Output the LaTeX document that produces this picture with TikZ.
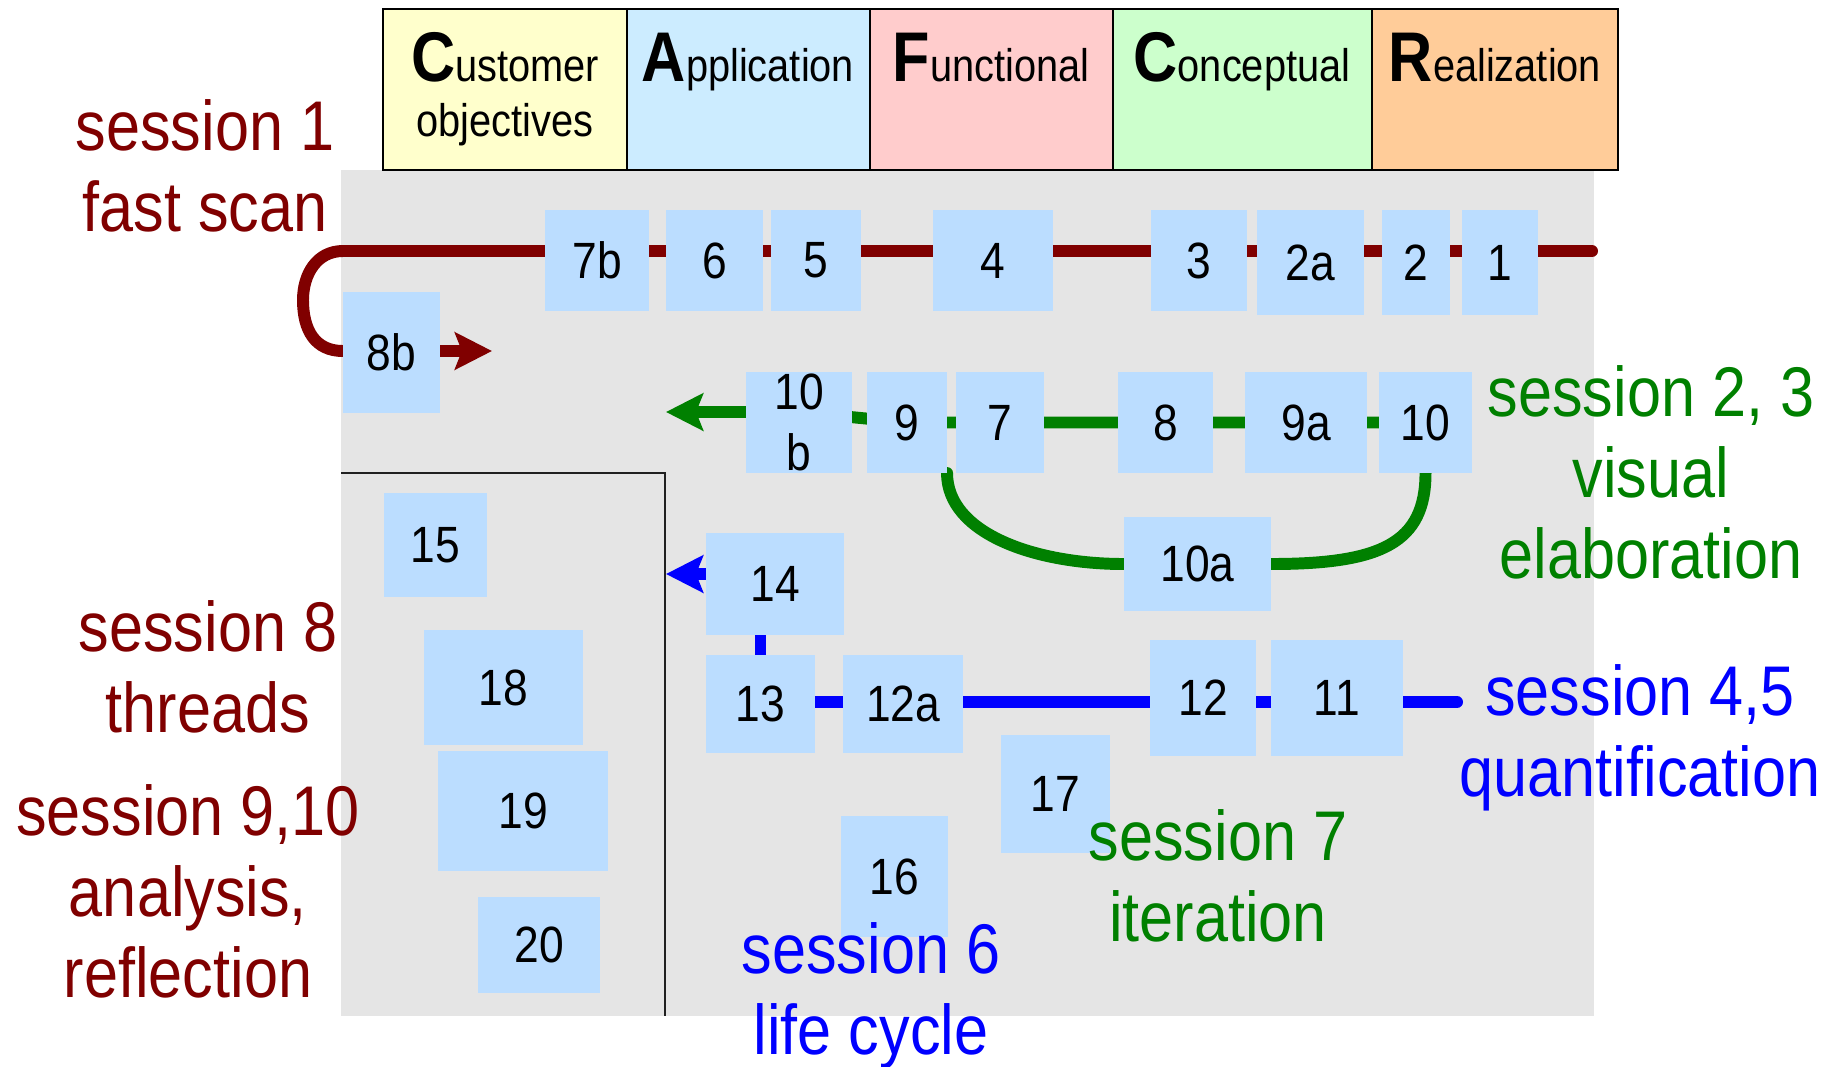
\documentclass[tikz,border=0pt]{standalone}
\usepackage{fontspec}
\setmainfont{Liberation Sans}[FakeStretch=0.87]
\usepackage{tikz}
\usetikzlibrary{arrows.meta}

\definecolor{tileblue}{RGB}{187,221,255}
\definecolor{panegray}{RGB}{229,229,229}
\definecolor{scanred}{RGB}{128,0,0}
\definecolor{visgreen}{RGB}{0,128,0}
\definecolor{quantblue}{RGB}{0,0,255}
\definecolor{custyellow}{RGB}{255,255,204}
\definecolor{appblue}{RGB}{204,236,255}
\definecolor{funcred}{RGB}{255,204,204}
\definecolor{concgreen}{RGB}{204,255,204}
\definecolor{realorange}{RGB}{255,204,153}

\pgfdeclarelayer{background}
\pgfsetlayers{background,main}

\newcommand{\phaseinit}[1]{{\fontsize{20}{15.6}\selectfont\bfseries #1}}

\tikzset{
  tile/.style={fill=tileblue, inner sep=0pt, outer sep=0pt, align=center,
    font=\fontsize{14.5}{17.4}\selectfont},
  phase/.style={draw=black, line width=0.8pt},
  phasetext/.style={inner sep=0pt, anchor=north, align=center,
    font=\fontsize{13}{15.6}\selectfont},
  session/.style={inner sep=0pt, anchor=north, align=center,
    font=\fontsize{20}{23}\selectfont},
  flow/.style={line width=3.4pt, line cap=round, line join=round},
  head/.style={-{Stealth[length=3.7mm,width=3.7mm,inset=0.7mm]}},
}

\begin{document}
\begin{tikzpicture}[x=0.01cm,y=-0.01cm]
  % Boundary
  \useasboundingbox (0,0) rectangle (1840,1066);
  % Canvas
  \begin{pgfonlayer}{background}
    \fill[panegray] (341,170) rectangle (1594,1016);
    \draw[gray!25!black, line width=0.6pt] (341,473) -- (665,473) -- (665,1016);
  \end{pgfonlayer}
  % Phase header
  \filldraw[phase, fill=custyellow] (383,9) rectangle (627,170);
  \filldraw[phase, fill=appblue] (627,9) rectangle (870,170);
  \filldraw[phase, fill=funcred] (870,9) rectangle (1113,170);
  \filldraw[phase, fill=concgreen] (1113,9) rectangle (1372,170);
  \filldraw[phase, fill=realorange] (1372,9) rectangle (1618,170);
  \node[phasetext] (hC) at (505,32) {\phaseinit{C}ustomer\\objectives};
  \node[phasetext] (hA) at (748,32) {\phaseinit{A}pplication};
  \node[phasetext] (hF) at (991,32) {\phaseinit{F}unctional};
  \node[phasetext] (hCo) at (1242,32) {\phaseinit{C}onceptual};
  \node[phasetext] (hR) at (1495,32) {\phaseinit{R}ealization};
  % Steps, fast scan
  \node[tile, minimum width=1.04cm, minimum height=1.01cm] (b7b) at (597,260.5) {7b};
  \node[tile, minimum width=0.97cm, minimum height=1.01cm] (b6) at (714.5,260.5) {6};
  \node[tile, minimum width=0.90cm, minimum height=1.01cm] (b5) at (816,260.5) {5};
  \node[tile, minimum width=1.20cm, minimum height=1.01cm] (b4) at (993,260.5) {4};
  \node[tile, minimum width=0.96cm, minimum height=1.01cm] (b3) at (1199,260.5) {3};
  \node[tile, minimum width=1.07cm, minimum height=1.05cm] (b2a) at (1310.5,262.5) {2a};
  \node[tile, minimum width=0.68cm, minimum height=1.05cm] (b2) at (1416,262.5) {2};
  \node[tile, minimum width=0.76cm, minimum height=1.05cm] (b1) at (1500,262.5) {1};
  \node[tile, minimum width=0.97cm, minimum height=1.21cm] (b8b) at (391.5,352.5) {8b};
  % Steps, visual elaboration
  \node[tile, minimum width=1.06cm, minimum height=1.01cm] (b10b) at (799,422.5) {10\\b};
  \node[tile, minimum width=0.80cm, minimum height=1.01cm] (b9) at (907,422.5) {9};
  \node[tile, minimum width=0.88cm, minimum height=1.01cm] (b7) at (1000,422.5) {7};
  \node[tile, minimum width=0.95cm, minimum height=1.01cm] (b8) at (1165.5,422.5) {8};
  \node[tile, minimum width=1.22cm, minimum height=1.01cm] (b9a) at (1306,422.5) {9a};
  \node[tile, minimum width=0.93cm, minimum height=1.01cm] (b10) at (1425.5,422.5) {10};
  \node[tile, minimum width=1.47cm, minimum height=0.94cm] (b10a) at (1197.5,564) {10a};
  % Steps, quantification
  \node[tile, minimum width=1.38cm, minimum height=1.02cm] (b14) at (775,584) {14};
  \node[tile, minimum width=1.09cm, minimum height=0.98cm] (b13) at (760.5,704) {13};
  \node[tile, minimum width=1.20cm, minimum height=0.98cm] (b12a) at (903,704) {12a};
  \node[tile, minimum width=1.06cm, minimum height=1.16cm] (b12) at (1203,698) {12};
  \node[tile, minimum width=1.32cm, minimum height=1.16cm] (b11) at (1337,698) {11};
  \node[tile, minimum width=1.09cm, minimum height=1.18cm] (b17) at (1055.5,794) {17};
  \node[tile, minimum width=1.07cm, minimum height=1.21cm] (b16) at (894.5,876.5) {16};
  % Steps, threads and analysis
  \node[tile, minimum width=1.03cm, minimum height=1.04cm] (b15) at (435.5,545) {15};
  \node[tile, minimum width=1.59cm, minimum height=1.15cm] (b18) at (503.5,687.5) {18};
  \node[tile, minimum width=1.70cm, minimum height=1.20cm] (b19) at (523,811) {19};
  \node[tile, minimum width=1.22cm, minimum height=0.96cm] (b20) at (539,945) {20};
  % Sessions
  \node[session, text=scanred] (s1) at (205,99) {session 1\\fast scan};
  \node[session, text=visgreen] (s23) at (1651,365) {session 2, 3\\visual\\elaboration};
  \node[session, text=quantblue] (s45) at (1640,664) {session 4,5\\quantification};
  \node[session, text=quantblue] (s6) at (871,922) {session 6\\life cycle};
  \node[session, text=visgreen] (s7) at (1218,809) {session 7\\iteration};
  \node[session, text=scanred] (s8) at (208,600) {session 8\\threads};
  \node[session, text=scanred] (s910) at (188,784) {session 9,10\\analysis,\\reflection};
  % Session paths
  \begin{pgfonlayer}{background}
    \coordinate (s end) at (1592,251);
    \coordinate (s bend) at (303,300);
    \coordinate (s tip) at (492,351);
    \coordinate (g tip) at (666,412);
    \coordinate (q end) at (1457,702);
    \coordinate (q tip) at (666,574);
    \draw[flow, scanred, head] (s end) -- (b8b.west |- s end)
      .. controls +(-26,0) and +(0,-26) .. (s bend)
      .. controls +(0,30) and +(-28,0) .. (b8b.west |- s tip) -- (s tip);
    \draw[flow, visgreen, head] (b10.center) -- (b9.center) -- (b10b.center |- g tip) -- (g tip);
    \draw[flow, visgreen] (b9.south east) .. controls +(0,60) and +(-90,0) .. (b10a.west);
    \draw[flow, visgreen] (b10a.east) .. controls +(110,0) and +(0,70) .. (b10.south);
    \draw[flow, quantblue, head] (q end) -- (b13.center |- q end) -- (b13.center |- q tip) -- (q tip);
  \end{pgfonlayer}
\end{tikzpicture}
\end{document}
